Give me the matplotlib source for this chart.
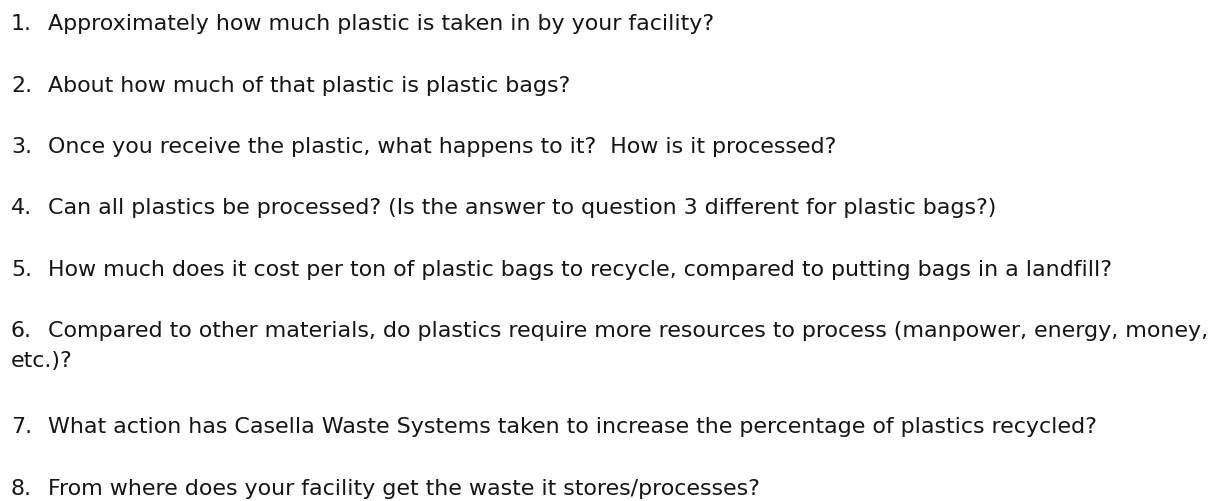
import matplotlib
matplotlib.use("Agg")

import matplotlib.pyplot as plt

numbers = ["1.", "2.", "3.", "4.", "5.", "6.", "7.", "8."]
questions = [
    ["Approximately how much plastic is taken in by your facility?"],
    ["About how much of that plastic is plastic bags?"],
    ["Once you receive the plastic, what happens to it?  How is it processed?"],
    ["Can all plastics be processed? (Is the answer to question 3 different for plastic bags?)"],
    ["How much does it cost per ton of plastic bags to recycle, compared to putting bags in a landfill?"],
    ["Compared to other materials, do plastics require more resources to process (manpower, energy, money,",
     "etc.)?"],
    ["What action has Casella Waste Systems taken to increase the percentage of plastics recycled?"],
    ["From where does your facility get the waste it stores/processes?"],
]

W, H = 1225, 502
fig = plt.figure(figsize=(W / 100, H / 100), dpi=100)
fig.patch.set_facecolor("white")

fs = 15.9
gap = 61.5      # between questions
wrap = 30       # between wrapped lines of one question
extra = 4.5     # bit of extra space after a wrapped question
y = 30          # baseline of first line, px from top
for num, lines in zip(numbers, questions):
    fig.text(11 / W, 1 - y / H, num, fontsize=fs, family="DejaVu Sans",
             va="baseline", ha="left", color="#151515")
    for i, line in enumerate(lines):
        x = 48 if i == 0 else 11
        fig.text(x / W, 1 - (y + wrap * i) / H, line, fontsize=fs,
                 family="DejaVu Sans", va="baseline", ha="left", color="#151515")
    y += gap + (wrap + extra) * (len(lines) - 1)

fig.savefig("out.png", dpi=100)
